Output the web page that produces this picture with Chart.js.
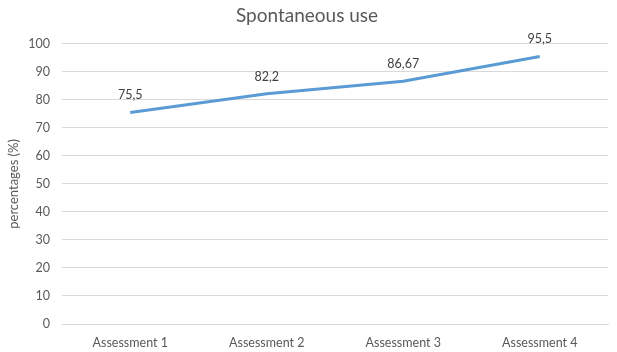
<!DOCTYPE html>
<html><head><meta charset="utf-8">
<script src="https://cdn.jsdelivr.net/npm/chart.js@4/dist/chart.umd.min.js"></script>
<style>html,body{margin:0;padding:0;background:#fff}#c{display:block}</style>
</head><body>
<canvas id="c" width="617" height="352"></canvas>
<script>
const categories = ["Assessment 1", "Assessment 2", "Assessment 3", "Assessment 4"];
const values = [75.5, 82.2, 86.67, 95.5];
const valueLabels = ["75,5", "82,2", "86,67", "95,5"];
const yTicks = [0, 10, 20, 30, 40, 50, 60, 70, 80, 90, 100];
const chartTitle = "Spontaneous use";
const yTitle = "percentages (%)";

const FONT = "Lato, 'Open Sans', sans-serif";
const TXT = "#595959";

const dataLabelPlugin = {
  id: "dataLabels",
  afterDatasetsDraw(chart) {
    const ctx = chart.ctx;
    const meta = chart.getDatasetMeta(0);
    ctx.save();
    ctx.font = "12.5px " + FONT;
    ctx.fillStyle = "#404040";
    ctx.textAlign = "center";
    ctx.textBaseline = "middle";
    meta.data.forEach((pt, i) => {
      ctx.fillText(valueLabels[i], pt.x, pt.y - 17);
    });
    ctx.restore();
  }
};

new Chart(document.getElementById("c"), {
  type: "line",
  data: {
    labels: categories,
    datasets: [{
      data: values,
      borderColor: "#5B9BD5",
      borderWidth: 3,
      pointRadius: 0,
      tension: 0,
      fill: false
    }]
  },
  options: {
    responsive: false,
    animation: false,
    devicePixelRatio: 1,
    layout: { padding: { left: 6, right: 9, top: 0, bottom: 0 } },
    plugins: {
      legend: { display: false },
      tooltip: { enabled: false },
      title: {
        display: true,
        text: chartTitle,
        color: TXT,
        font: { family: FONT, size: 19, weight: "normal" },
        padding: { top: 4, bottom: 17 }
      }
    },
    scales: {
      x: {
        offset: true,
        grid: { display: false, drawTicks: false, offset: true },
        border: { display: true, color: "#d9d9d9", width: 1 },
        ticks: { color: TXT, font: { family: FONT, size: 12.5 }, padding: 11, maxRotation: 0 },
        afterFit(s) { s.height = 28; }
      },
      y: {
        min: 0, max: 100,
        afterBuildTicks(s) { s.ticks = yTicks.map(v => ({ value: v })); },
        grid: { color: "#d9d9d9", drawTicks: false },
        border: { display: false },
        ticks: { color: TXT, font: { family: FONT, size: 12.5 }, padding: 12 },
        title: { display: true, text: yTitle, color: TXT, font: { family: FONT, size: 13 }, padding: 0 },
        afterFit(s) { s.width = 56; }
      }
    }
  },
  plugins: [dataLabelPlugin]
});
</script>
</body></html>
